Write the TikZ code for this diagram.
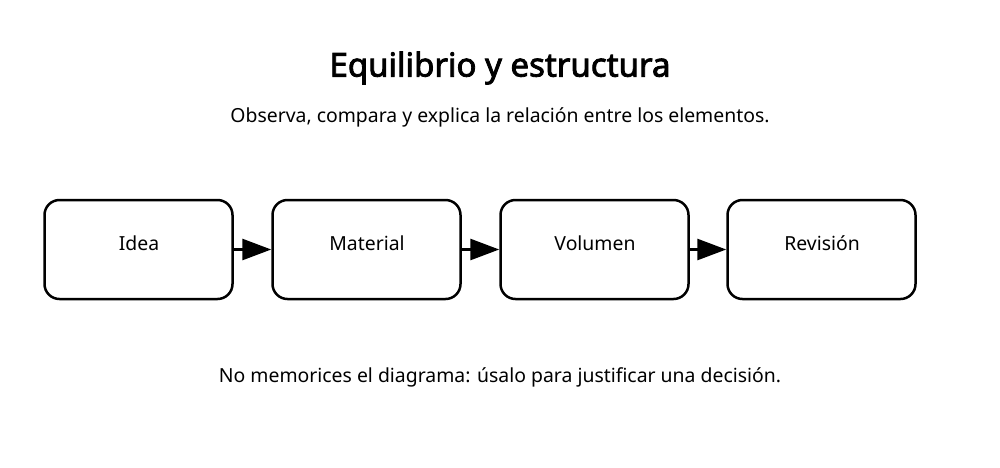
\documentclass[tikz,border=0pt]{standalone}
\usepackage{fontspec}
\setmainfont{Noto Sans}
\newfontfamily\titlefont{Noto Sans}[FakeBold=2.5]
\usetikzlibrary{arrows.meta}
\begin{document}
\begin{tikzpicture}[x=1pt,y=-1pt,
  box/.style={draw=black,line width=2.5pt,rounded corners=15pt,minimum width=188pt,minimum height=99pt,inner sep=0pt},
  lab/.style={font=\fontsize{19.4}{23}\selectfont},
  conn/.style={line width=2.8pt,-{Triangle[length=29pt,width=21pt]}}]
\useasboundingbox (0,0) rectangle (1000,467);
\node[font=\titlefont\fontsize{33}{38}\selectfont] (title) at (500,68) {Equilibrio y estructura};
\node[lab] (sub) at (500,117) {Observa, compara y explica la relación entre los elementos.};
\node[box] (a) at (138.5,249.5) {};
\node[box] (b) at (366.5,249.5) {};
\node[box] (c) at (594.5,249.5) {};
\node[box] (d) at (821.5,249.5) {};
\node[lab] (ta) at (139,243) {Idea};
\node[lab] (tb) at (367,243) {Material};
\node[lab] (tc) at (595,243) {Volumen};
\node[lab] (td) at (822,243) {Revisión};
\draw[conn] (a.east) -- (b.west);
\draw[conn] (b.east) -- (c.west);
\draw[conn] (c.east) -- (d.west);
\node[lab] (foot) at (500,377) {No memorices el diagrama: úsalo para justificar una decisión.};
\end{tikzpicture}
\end{document}
